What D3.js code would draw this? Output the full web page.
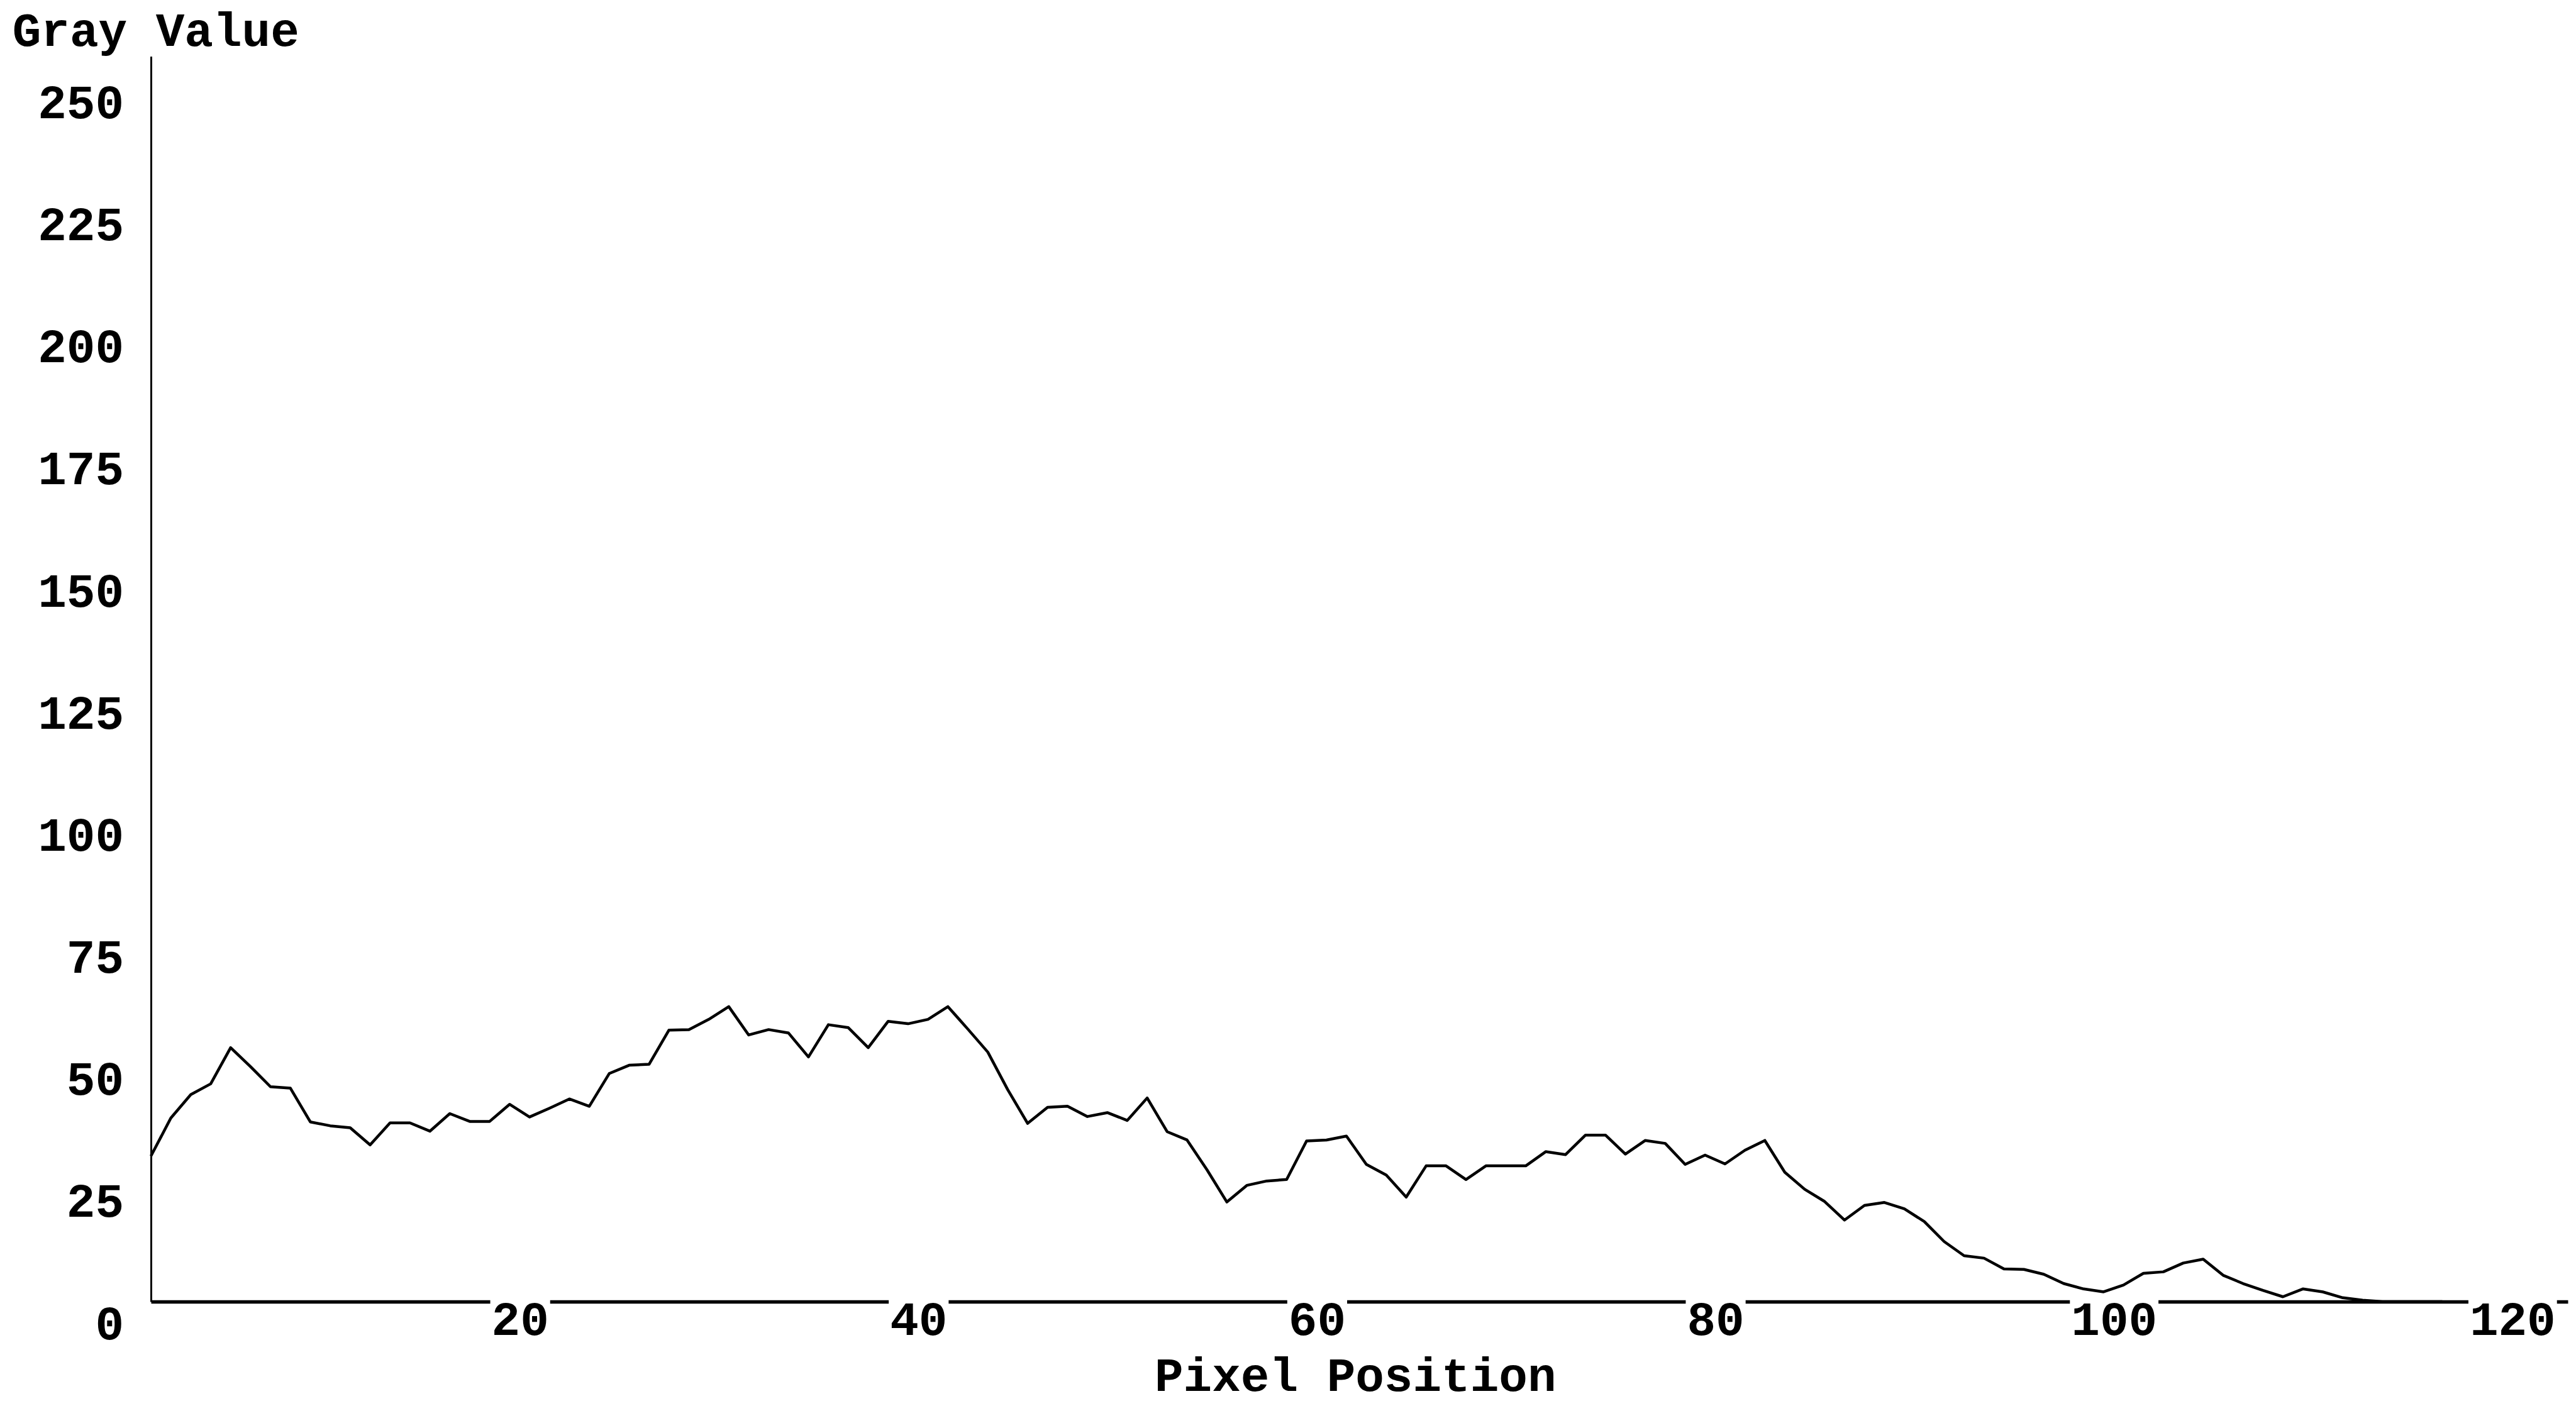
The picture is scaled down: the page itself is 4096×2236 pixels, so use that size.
<!DOCTYPE html>
<html>
<head>
<meta charset="utf-8">
<script src="https://cdn.jsdelivr.net/npm/d3@7"></script>
<style>
  html, body { margin: 0; padding: 0; background: #fff; }
  svg { display: block; }
  text { font-family: "Liberation Mono", "DejaVu Sans Mono", monospace; font-weight: bold; fill: #000; }
</style>
</head>
<body>
<svg id="chart" width="4096" height="2236"></svg>
<script>
// Gray value profile along a scan line, one sample per pixel position (0, 1, 2, ...)
const grayValue = [
  29.8, 37.6, 42.4, 44.6, 52.0, 48.1, 44.0, 43.7, 36.8, 36.0,
  35.6, 32.1, 36.6, 36.6, 34.9, 38.5, 36.9, 36.9, 40.4, 37.8,
  39.6, 41.5, 40.0, 46.7, 48.4, 48.6, 55.6, 55.7, 57.8, 60.4,
  54.6, 55.7, 55.0, 50.1, 56.7, 56.1, 52.0, 57.4, 56.9, 57.8,
  60.4, 55.8, 51.1, 43.4, 36.5, 39.8, 40.0, 37.9, 38.7, 37.1,
  41.7, 34.8, 33.1, 27.0, 20.4, 23.8, 24.7, 25.0, 32.9, 33.1,
  33.9, 28.1, 25.9, 21.4, 27.8, 27.8, 25.0, 27.8, 27.8, 27.8,
  30.7, 30.1, 34.1, 34.1, 30.2, 33.0, 32.4, 28.1, 30.0, 28.2,
  31.0, 33.0, 26.5, 23.0, 20.5, 16.7, 19.7, 20.3, 19.0, 16.4,
  12.3, 9.4, 8.9, 6.7, 6.6, 5.6, 3.7, 2.6, 2.0, 3.4,
  5.8, 6.1, 7.9, 8.7, 5.4, 3.7, 2.3, 1.0, 2.6, 2.0,
  0.8, 0.3, 0, 0, 0, 0
];

// Axis ticks and titles
const xTickValues = [20, 40, 60, 80, 100, 120];
const yTickValues = [0, 25, 50, 75, 100, 125, 150, 175, 200, 225, 250];
const xAxisMax = 121.3;   // the x axis line runs a little past the last label
const yAxisMax = 255;     // 8-bit gray range
const yTitle = "Gray Value";
const xTitle = "Pixel Position";

const svg = d3.select("#chart");

const x = d3.scaleLinear().domain([0, xAxisMax]).range([240, 4083]);
const y = d3.scaleLinear().domain([0, yAxisMax]).range([2070, 89.5]);

const FONT = 76;

// Y axis: plain vertical rule, labels right-aligned and set slightly below each level
const yAxisG = svg.append("g")
  .attr("transform", `translate(${x(0)},0)`)
  .call(d3.axisLeft(y).tickValues(yTickValues).tickSize(0).tickSizeOuter(0));
yAxisG.select(".domain").attr("stroke", "#000").attr("stroke-width", 3);
yAxisG.selectAll(".tick text")
  .attr("x", -43)
  .attr("dy", null)
  .attr("y", 59)
  .attr("text-anchor", "end")
  .style("font-size", FONT + "px")
  .style("font-family", null);

// X axis: baseline rule, each label sits on a white patch that breaks the rule
const xAxisG = svg.append("g")
  .attr("transform", `translate(0,${y(0)})`)
  .call(d3.axisBottom(x).tickValues(xTickValues).tickSize(0).tickSizeOuter(0));
xAxisG.select(".domain").attr("stroke", "#000").attr("stroke-width", 5.4);
xAxisG.selectAll(".tick text")
  .attr("x", -47)
  .attr("dy", null)
  .attr("y", 53)
  .attr("text-anchor", "middle")
  .style("font-size", FONT + "px")
  .style("font-family", null);
xAxisG.selectAll(".tick").each(function () {
  const g = d3.select(this);
  const bb = g.select("text").node().getBBox();
  g.insert("rect", "text")
    .attr("x", bb.x - 2)
    .attr("y", -6)
    .attr("width", bb.width + 4)
    .attr("height", bb.y + bb.height + 6)
    .attr("fill", "#fff");
});

// Profile line
const line = d3.line()
  .x((d, i) => x(i))
  .y(d => y(d))
  .curve(d3.curveLinear);

svg.append("path")
  .datum(grayValue)
  .attr("fill", "none")
  .attr("stroke", "#000")
  .attr("stroke-width", 4.5)
  .attr("stroke-linejoin", "round")
  .attr("d", line);

// Titles
svg.append("text")
  .attr("x", 19.7)
  .attr("y", 73.4)
  .style("font-size", FONT + "px")
  .text(yTitle);

svg.append("text")
  .attr("x", 1836)
  .attr("y", 2212)
  .style("font-size", FONT + "px")
  .text(xTitle);
</script>
</body>
</html>
